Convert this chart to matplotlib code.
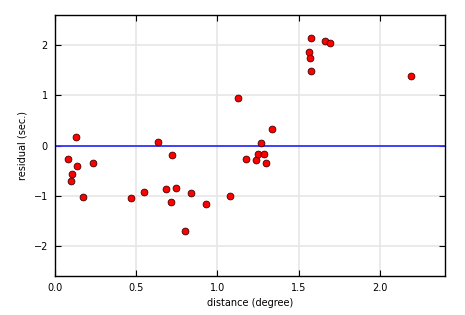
import matplotlib
matplotlib.use("Agg")
import matplotlib.pyplot as plt

distance = [0.127, 0.632, 1.124, 0.080, 0.135, 0.234, 0.720, 0.103, 0.097, 0.170,
            0.466, 0.548, 0.681, 0.743, 0.714, 0.837, 0.927, 0.798, 1.075, 1.175,
            1.575, 1.660, 1.692, 1.561, 1.569, 1.575, 2.189, 1.333, 1.266, 1.235,
            1.247, 1.284, 1.298]
residual = [0.18, 0.07, 0.94, -0.27, -0.41, -0.35, -0.19, -0.57, -0.71, -1.03,
            -1.05, -0.93, -0.87, -0.85, -1.13, -0.95, -1.17, -1.70, -1.01, -0.27,
            2.15, 2.09, 2.05, 1.855, 1.755, 1.477, 1.378, 0.324, 0.045, -0.29,
            -0.17, -0.17, -0.35]

fig = plt.figure(figsize=(4.65, 3.15), dpi=100)
ax = fig.add_axes([0.118, 0.124, 0.839, 0.828])
ax.grid(True, color='#e6e6e6', linewidth=1.2, zorder=0)
ax.axhline(0, color='#3333ff', linewidth=1.3, zorder=2)
ax.scatter(distance, residual, s=24, c='red', edgecolors='#400000', linewidths=0.6, zorder=3)
ax.set_xlim(0, 2.4)
ax.set_ylim(-2.6, 2.6)
ax.set_xticks([0.0, 0.5, 1.0, 1.5, 2.0])
ax.set_yticks([-2, -1, 0, 1, 2])
ax.tick_params(direction='in', top=True, right=True, labelsize=7, length=4, width=0.8, pad=5)
for s in ax.spines.values():
    s.set_linewidth(1.0)
ax.set_xlabel('distance (degree)', fontsize=7)
ax.set_ylabel('residual (sec.)', fontsize=7)
fig.savefig('out.png', dpi=100)
